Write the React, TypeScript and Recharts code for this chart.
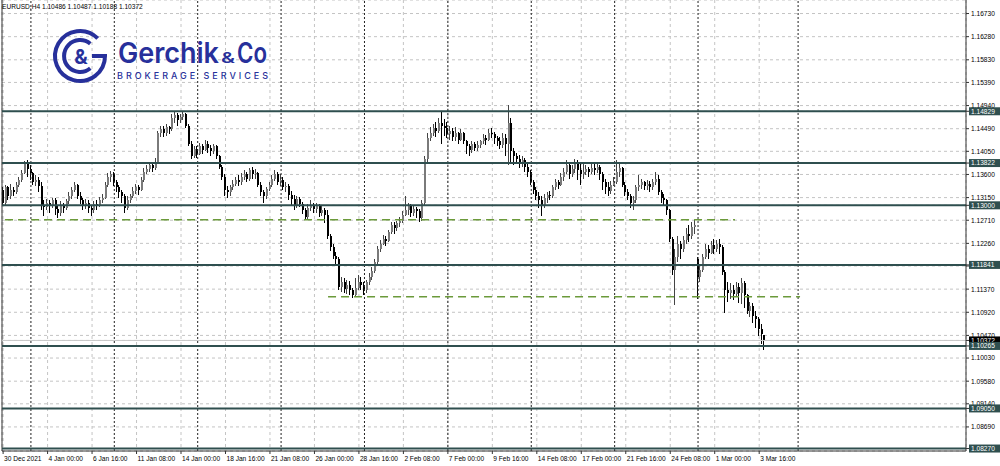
import React from "react";
import {
  ComposedChart,
  Bar,
  XAxis,
  YAxis,
  CartesianGrid,
  ReferenceLine,
} from "recharts";

// EURUSD H4, 30 Dec 2021 .. 4 Mar 2022 (bar index 0..274)
const closes = [
  1.1305, 1.1335, 1.1318, 1.133,
  1.1325, 1.134, 1.135, 1.1362, 1.1383, 1.137,
  1.1362, 1.1345, 1.135, 1.1338, 1.13, 1.1296,
  1.1305, 1.1298, 1.131, 1.1292, 1.1285, 1.13,
  1.1295, 1.1308, 1.1318, 1.133, 1.134, 1.1318,
  1.131, 1.1298, 1.1305, 1.1295, 1.129, 1.1302,
  1.13, 1.131, 1.1315, 1.134, 1.1355, 1.136,
  1.1345, 1.1335, 1.1325, 1.1318, 1.1295, 1.131,
  1.1318, 1.1328, 1.1335, 1.133, 1.135, 1.1365,
  1.137, 1.1378, 1.1372, 1.1385, 1.144, 1.1448,
  1.144, 1.1452, 1.1448, 1.147, 1.1475, 1.1465,
  1.1472, 1.1478, 1.1455, 1.142, 1.1395, 1.141,
  1.14, 1.1415, 1.1408, 1.142, 1.1412, 1.1405,
  1.1415, 1.1395, 1.1375, 1.1355, 1.133, 1.1325,
  1.1335, 1.1342, 1.135, 1.1345, 1.1355, 1.136,
  1.1352, 1.1368, 1.136, 1.1362, 1.134, 1.1325,
  1.1318, 1.1332, 1.134, 1.1352, 1.136, 1.1345,
  1.135, 1.1335, 1.1338, 1.132, 1.1312, 1.13,
  1.1312, 1.1302, 1.129, 1.1278, 1.1295, 1.13,
  1.1292, 1.1298, 1.1285, 1.129, 1.1282, 1.124,
  1.1218, 1.1202, 1.1196, 1.1142, 1.115, 1.1138,
  1.1145, 1.1135, 1.1125, 1.114, 1.115, 1.1145,
  1.1135, 1.115, 1.116, 1.1172, 1.119, 1.1215,
  1.1225, 1.1235, 1.123, 1.1248, 1.1262, 1.1255,
  1.1265, 1.127, 1.1282, 1.129, 1.13, 1.1285,
  1.1292, 1.1288, 1.1275, 1.1305, 1.139, 1.143,
  1.144, 1.145, 1.1445, 1.146, 1.1455, 1.145,
  1.1438, 1.1445, 1.1432, 1.144, 1.1428, 1.144,
  1.1425, 1.1415, 1.1408, 1.142, 1.1412, 1.1418,
  1.1425, 1.143, 1.1428, 1.144, 1.1438, 1.143,
  1.1425, 1.1418, 1.143, 1.142, 1.146, 1.1405,
  1.1395, 1.139, 1.138, 1.1388, 1.1375, 1.1365,
  1.1345, 1.133, 1.1318, 1.131, 1.13, 1.1315,
  1.132, 1.1318, 1.1335, 1.1345, 1.134, 1.1355,
  1.1365, 1.1378, 1.136, 1.137, 1.138, 1.1368,
  1.136, 1.1365, 1.137, 1.1365, 1.1372, 1.1368,
  1.1375, 1.136, 1.1345, 1.1335, 1.1328, 1.134,
  1.1345, 1.1365, 1.1372, 1.134, 1.1325, 1.1318,
  1.1305, 1.131, 1.1335, 1.134, 1.1345, 1.1338,
  1.1342, 1.1335, 1.1345, 1.1352, 1.1325, 1.1315,
  1.131, 1.129, 1.1235, 1.1175, 1.12, 1.1225,
  1.1215, 1.1232, 1.1245, 1.124, 1.1258, 1.1262,
  1.116, 1.1175, 1.12, 1.1215, 1.1208, 1.1222,
  1.1215, 1.1225, 1.1218, 1.117, 1.1135, 1.113,
  1.1135, 1.1128, 1.1142, 1.113, 1.1148, 1.1125,
  1.1095, 1.1105, 1.1085, 1.1078, 1.106, 1.1049,
  1.10372,
];

const highs = [
  1.1335, 1.134, 1.1338, 1.1342,
  1.1336, 1.1345, 1.1356, 1.1368, 1.1386, 1.1388,
  1.1378, 1.1365, 1.1358, 1.1355, 1.1345, 1.131,
  1.1312, 1.131, 1.1315, 1.1315, 1.13, 1.1308,
  1.1305, 1.1312, 1.1325, 1.1335, 1.1346, 1.1342,
  1.1325, 1.1315, 1.1312, 1.131, 1.13, 1.1308,
  1.131, 1.1316, 1.1322, 1.1345, 1.1362, 1.1366,
  1.1365, 1.135, 1.134, 1.133, 1.1322, 1.1318,
  1.1322, 1.1335, 1.1342, 1.134, 1.1355, 1.1372,
  1.1378, 1.1385, 1.1384, 1.1392, 1.1445, 1.1455,
  1.1455, 1.1458, 1.1455, 1.1478, 1.1482, 1.148,
  1.1478, 1.1484, 1.148, 1.1458, 1.1425, 1.1415,
  1.1415, 1.1422, 1.142, 1.1428, 1.1425, 1.1418,
  1.142, 1.1418, 1.1398, 1.1378, 1.136, 1.1338,
  1.134, 1.135, 1.1356, 1.1358, 1.1362, 1.1368,
  1.1365, 1.1372, 1.1375, 1.137, 1.1365, 1.1345,
  1.133, 1.1336, 1.1345, 1.1358, 1.1368, 1.1365,
  1.136, 1.1355, 1.1345, 1.1342, 1.1328, 1.132,
  1.1318, 1.1316, 1.1306, 1.1295, 1.1302, 1.131,
  1.1305, 1.1305, 1.1302, 1.1298, 1.1295, 1.129,
  1.1245, 1.1225, 1.121, 1.12, 1.116, 1.1158,
  1.1155, 1.1152, 1.114, 1.1158, 1.1165, 1.116,
  1.115, 1.1155, 1.1168, 1.118, 1.1195, 1.122,
  1.1232, 1.1242, 1.124, 1.1252, 1.1268, 1.1268,
  1.127, 1.1278, 1.1288, 1.1318, 1.1305, 1.1302,
  1.1298, 1.1296, 1.1292, 1.131, 1.1395, 1.144,
  1.1452, 1.1458, 1.1462, 1.147, 1.1484, 1.1468,
  1.1462, 1.1455, 1.145, 1.1452, 1.1442, 1.1448,
  1.1442, 1.1428, 1.142, 1.1425, 1.1424, 1.1425,
  1.1428, 1.1438, 1.1436, 1.1448, 1.145, 1.1442,
  1.1435, 1.1432, 1.144, 1.1438, 1.1495, 1.147,
  1.1412, 1.1402, 1.1398, 1.1395, 1.1392, 1.1385,
  1.1368, 1.135, 1.1335, 1.1325, 1.1318, 1.1322,
  1.1325, 1.1328, 1.134, 1.1352, 1.135, 1.1362,
  1.1372, 1.1388, 1.1385, 1.1378, 1.139, 1.1388,
  1.1385, 1.138, 1.1378, 1.1375, 1.138, 1.1385,
  1.1382, 1.1378, 1.1365, 1.1352, 1.1345, 1.1348,
  1.1355, 1.1388, 1.138, 1.1375, 1.1345, 1.1332,
  1.1322, 1.1318, 1.134, 1.1358, 1.1352, 1.1348,
  1.135, 1.1348, 1.1352, 1.1365, 1.1358, 1.133,
  1.1322, 1.1312, 1.1292, 1.1238, 1.1215, 1.124,
  1.123, 1.124, 1.1255, 1.1262, 1.1268, 1.1272,
  1.12, 1.1185, 1.1205, 1.1225, 1.1222, 1.123,
  1.1235, 1.1232, 1.1235, 1.1222, 1.1175, 1.115,
  1.1148, 1.1145, 1.115, 1.1148, 1.1158, 1.1152,
  1.1128, 1.1112, 1.111, 1.1095, 1.1082, 1.107,
  1.10487,
];

const lows = [
  1.1298, 1.13, 1.131, 1.1312,
  1.1318, 1.1322, 1.1335, 1.1345, 1.136, 1.1355,
  1.135, 1.134, 1.1338, 1.1325, 1.129, 1.128,
  1.129, 1.1285, 1.1295, 1.1282, 1.1275, 1.128,
  1.1285, 1.129, 1.1302, 1.1312, 1.1325, 1.1312,
  1.1302, 1.129, 1.1292, 1.1285, 1.128, 1.1285,
  1.129, 1.1296, 1.1305, 1.1312, 1.1335, 1.1345,
  1.1338, 1.1325, 1.1315, 1.1305, 1.1285, 1.129,
  1.1305, 1.1315, 1.1322, 1.132, 1.1328, 1.1345,
  1.136, 1.1365, 1.1364, 1.1368, 1.138, 1.1432,
  1.1432, 1.1435, 1.1438, 1.1445, 1.146, 1.1455,
  1.146, 1.1465, 1.145, 1.1415, 1.139, 1.1392,
  1.1392, 1.1398, 1.14, 1.1405, 1.1402, 1.1396,
  1.14, 1.139, 1.137, 1.135, 1.1318, 1.1315,
  1.1318, 1.133, 1.1338, 1.1338, 1.134, 1.135,
  1.1345, 1.1348, 1.1352, 1.1352, 1.1335, 1.1318,
  1.1305, 1.1312, 1.1328, 1.1335, 1.1348, 1.134,
  1.1338, 1.133, 1.1325, 1.131, 1.13, 1.129,
  1.1295, 1.1296, 1.1284, 1.1272, 1.1274, 1.1288,
  1.1286, 1.1285, 1.1278, 1.128, 1.1265, 1.1235,
  1.1212, 1.1195, 1.1185, 1.1135, 1.1132, 1.113,
  1.1128, 1.1125, 1.112, 1.1122, 1.1135, 1.1135,
  1.1125, 1.113, 1.1145, 1.1155, 1.1168, 1.1185,
  1.121, 1.1222, 1.122, 1.1228, 1.1245, 1.1245,
  1.125, 1.1258, 1.1265, 1.128, 1.1282, 1.1278,
  1.128, 1.1276, 1.1268, 1.127, 1.13, 1.1385,
  1.1425, 1.1435, 1.1432, 1.144, 1.142, 1.1435,
  1.143, 1.1428, 1.1425, 1.1425, 1.142, 1.1425,
  1.142, 1.14, 1.1395, 1.1402, 1.1405, 1.1406,
  1.1412, 1.142, 1.1418, 1.1425, 1.143, 1.142,
  1.1415, 1.141, 1.1412, 1.1395, 1.1378, 1.138,
  1.1378, 1.138, 1.1372, 1.1375, 1.1365, 1.1355,
  1.134, 1.1322, 1.131, 1.1295, 1.128, 1.1295,
  1.1305, 1.131, 1.1315, 1.133, 1.1332, 1.1338,
  1.1348, 1.136, 1.1352, 1.1355, 1.1362, 1.135,
  1.134, 1.1352, 1.1358, 1.1356, 1.136, 1.1358,
  1.1362, 1.135, 1.133, 1.1322, 1.1318, 1.1322,
  1.1338, 1.1342, 1.1355, 1.1335, 1.1318, 1.131,
  1.1295, 1.129, 1.1305, 1.1328, 1.1332, 1.133,
  1.133, 1.1325, 1.133, 1.134, 1.132, 1.1305,
  1.13, 1.1282, 1.1228, 1.1165, 1.1106, 1.119,
  1.1195, 1.121, 1.1225, 1.1228, 1.1235, 1.1245,
  1.1118, 1.115, 1.117, 1.1195, 1.1195, 1.1205,
  1.1205, 1.121, 1.1205, 1.1165, 1.109, 1.1112,
  1.1118, 1.1115, 1.1122, 1.111, 1.1108, 1.11,
  1.1088, 1.1082, 1.1072, 1.1062, 1.1045, 1.103,
  1.10188,
];

// bars whose open is not the previous close (session gaps)
const gapOpens: Record<number, number> = { 0: 1.133, 250: 1.1195, 274: 1.10486 };

const timeTicks = [0, 16, 32, 48, 64, 80, 96, 112, 128, 144, 160, 176, 192, 208, 224, 240, 256, 272];
const timeLabels = [
  "30 Dec 2021", "4 Jan 00:00", "6 Jan 16:00", "11 Jan 08:00", "14 Jan 00:00",
  "18 Jan 16:00", "21 Jan 08:00", "26 Jan 00:00", "28 Jan 16:00", "2 Feb 08:00",
  "7 Feb 00:00", "9 Feb 16:00", "14 Feb 08:00", "17 Feb 00:00", "21 Feb 16:00",
  "24 Feb 08:00", "1 Mar 00:00", "3 Mar 16:00",
];
const weekStarts = [10, 40, 70, 100, 130, 160, 190, 220, 250, 286];

const priceTicks = [
  1.1673, 1.1628, 1.1583, 1.1539, 1.1494, 1.1449, 1.1405, 1.136, 1.1315, 1.1271,
  1.1226, 1.1182, 1.1137, 1.1092, 1.1047, 1.1003, 1.0958, 1.0914, 1.0869,
];
const levels = [1.14829, 1.13822, 1.13, 1.11841, 1.10265, 1.0905, 1.0827];
const bidPrice = 1.10372;
const dashedLevels = [
  { price: 1.1272, from: 0.7, to: 263.3 },
  { price: 1.1122, from: 116.9, to: 286.7 },
];

const candles = closes.map((c, i) => ({
  i,
  o: gapOpens[i] ?? closes[i - 1],
  c,
  h: highs[i],
  l: lows[i],
  range: [lows[i], highs[i]],
}));

const FONT = "'Liberation Sans', Arial, sans-serif";
const LOGO_FONT = "Inter, sans-serif";
const LEVEL_COLOR = "#2f4f4f";
const BLUE = "#27309b";

const Candle = (props: any) => {
  const { x, y, width, height } = props;
  const p = props.payload ?? props;
  const top = Math.min(y, y + height);
  const span = Math.abs(height);
  const k = p.h === p.l ? 0 : span / (p.h - p.l);
  const yOf = (v: number) => top + (p.h - v) * k;
  const cx = Math.round(x + width / 2);
  const bull = p.c >= p.o;
  const bodyTop = yOf(Math.max(p.o, p.c));
  const bodyH = Math.max(1, yOf(Math.min(p.o, p.c)) - bodyTop);
  return (
    <g shapeRendering="crispEdges">
      <line x1={cx - 0.5} x2={cx - 0.5} y1={top} y2={top + span} stroke={bull ? "#444" : "#000"} />
      <rect x={cx - 1} y={bodyTop} width={2} height={bodyH} fill={bull ? "#7a7a7a" : "#000"} />
    </g>
  );
};

const TimeTick = (props: any) => {
  const { x, y, payload } = props;
  const k = timeTicks.indexOf(payload.value);
  return (
    <text x={x + 1} y={y + 5} fontSize={6.6} fontFamily={FONT} fill="#000" textAnchor="start">
      {timeLabels[k]}
    </text>
  );
};

const PriceTick = (props: any) => {
  const { x, y, payload } = props;
  const v = payload.value;
  const isLevel = levels.includes(v);
  const isBid = v === bidPrice;
  const box = isLevel || isBid;
  return (
    <g>
      {box && <rect x={969} y={y - 4} width={31} height={8} fill={isBid ? "#000" : LEVEL_COLOR} />}
      <text x={x} y={y + 2.4} fontSize={6.6} fontFamily={FONT} fill={box ? "#fff" : "#000"} textAnchor="start">
        {v.toFixed(5)}
      </text>
    </g>
  );
};

const Logo = () => (
  <svg width={1000} height={466} style={{ position: "absolute", left: 0, top: 0, pointerEvents: "none" }}>
    <text x={2} y={9} fontSize={6.6} fontFamily={FONT} fill="#000">
      EURUSD,H4  1.10486 1.10487 1.10188 1.10372
    </text>
    <g fill="none" stroke={BLUE} strokeWidth={4}>
      <path d="M 97.7 38.3 A 25 25 0 1 0 105 56 L 92 56" />
      <path d="M 90.3 43.7 A 16 16 0 1 0 90.3 68.3" />
    </g>
    <text x={81} y={64} fontSize={20} fontWeight={700} fontFamily={LOGO_FONT} fill={BLUE} textAnchor="middle">
      &amp;
    </text>
    <text x={118} y={63} fontSize={28} fontWeight={600} fontFamily={LOGO_FONT} fill={BLUE} textLength={101} lengthAdjust="spacingAndGlyphs">
      Gerchik
    </text>
    <text x={221} y={63} fontSize={15} fontWeight={600} fontFamily={LOGO_FONT} fill={BLUE} textLength={14} lengthAdjust="spacingAndGlyphs">
      &amp;
    </text>
    <text x={237} y={63} fontSize={28} fontWeight={600} fontFamily={LOGO_FONT} fill={BLUE} textLength={30} lengthAdjust="spacingAndGlyphs">
      Co
    </text>
    <text x={117} y={79} fontSize={9} fontWeight={500} fontFamily={LOGO_FONT} fill={BLUE} textLength={151} lengthAdjust="spacing">
      BROKERAGE SERVICES
    </text>
  </svg>
);

export default function App() {
  return (
    <div style={{ position: "absolute", left: 0, top: 0, width: 1000, height: 466, background: "#fff" }}>
      <ComposedChart width={1000} height={466} data={candles} margin={{ top: 0, right: 0, bottom: 0, left: 2 }}>
        <CartesianGrid stroke="#c4c4c4" strokeDasharray="3 3" />
        <XAxis
          dataKey="i"
          type="number"
          domain={[-0.4, 346.4]}
          ticks={timeTicks}
          interval={0}
          tick={TimeTick}
          tickSize={3}
          height={15}
          axisLine={{ stroke: "#333" }}
          tickLine={{ stroke: "#333" }}
          allowDataOverflow
        />
        <YAxis
          orientation="right"
          type="number"
          domain={[1.08222, 1.16993]}
          ticks={[...priceTicks, bidPrice, ...levels]}
          interval={0}
          tick={PriceTick}
          width={34}
          tickSize={3}
          axisLine={{ stroke: "#333" }}
          tickLine={{ stroke: "#333" }}
          allowDataOverflow
        />
        <ReferenceLine x={-0.4} stroke="#333" />
        {weekStarts.map((w) => (
          <ReferenceLine key={`w${w}`} x={w} stroke="#222" strokeDasharray="2 2" />
        ))}
        <ReferenceLine y={bidPrice} stroke="#c8c8c8" />
        {levels.map((lv) => (
          <ReferenceLine key={`l${lv}`} y={lv} stroke={LEVEL_COLOR} strokeWidth={2} />
        ))}
        {dashedLevels.map((d) => (
          <ReferenceLine
            key={`d${d.price}`}
            segment={[{ x: d.from, y: d.price }, { x: d.to, y: d.price }]}
            stroke="#6b9a3a"
            strokeWidth={1.5}
            strokeDasharray="8 5"
          />
        ))}
        <Bar dataKey="range" barSize={2} shape={Candle} isAnimationActive={false} />
      </ComposedChart>
      <Logo />
    </div>
  );
}
